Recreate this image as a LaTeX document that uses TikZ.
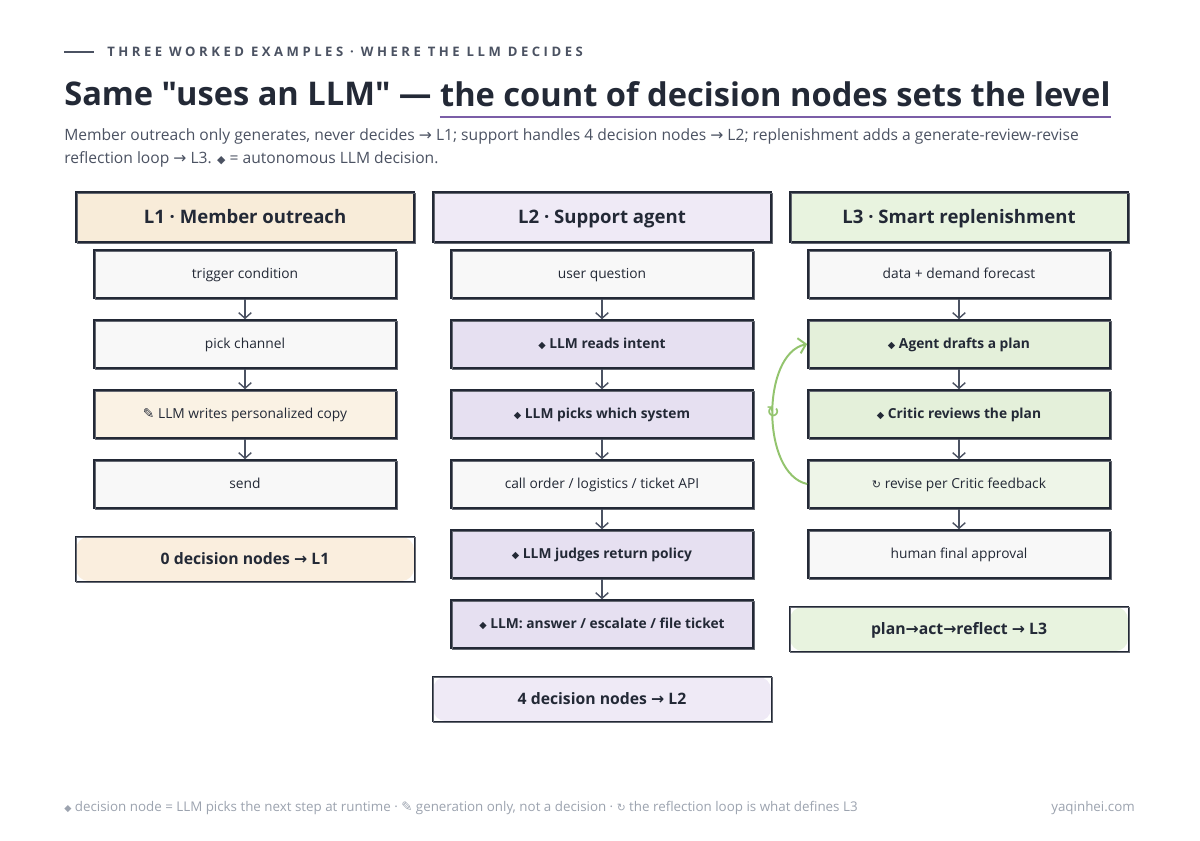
\documentclass[tikz,border=0pt]{standalone}
\usepackage{fontspec}
\setmainfont{Open Sans}
\newfontfamily\symfont{DejaVu Sans}
\newfontfamily\kickfont[LetterSpace=27]{Open Sans}
\newfontfamily\titlefont[Ligatures=TeXOff]{Open Sans}
\usetikzlibrary{arrows.meta, positioning}

\definecolor{ink}{HTML}{232936}
\definecolor{subgray}{HTML}{4B5262}
\definecolor{footgray}{HTML}{9CA3AF}
\definecolor{boxwhite}{HTML}{F8F8F8}
\definecolor{peach}{HTML}{F8ECD9}
\definecolor{peachlt}{HTML}{FAEEDE}
\definecolor{lilac}{HTML}{E6E0F1}
\definecolor{lilaclt}{HTML}{EFEAF6}
\definecolor{leaf}{HTML}{E4F0DA}
\definecolor{leaflt}{HTML}{EEF5E8}
\definecolor{leafhd}{HTML}{E8F3DF}
\definecolor{underl}{HTML}{7B5EA7}
\definecolor{loopgreen}{HTML}{93C46E}

\newcommand{\dia}{{\symfont\scalebox{0.7}{◆}}}
\newcommand{\pen}{{\symfont ✎}}
\newcommand{\cyc}{{\symfont\scalebox{0.8}{↻}}}
\newcommand{\arr}{{\symfont →}}

\begin{document}
\begin{tikzpicture}[
    x=0.025cm, y=-0.025cm,
    sketch/.style={draw=ink, line width=1.1pt,
        postaction={draw=ink!70, line width=0.4pt, transform canvas={shift={(0.7pt,-0.6pt)}}}},
    head/.style={sketch, minimum width=8.45cm, minimum height=1.25cm, inner sep=0pt,
        text height=9.4pt, text depth=0pt,
        font=\fontsize{13.2}{15}\selectfont\bfseries, text=ink},
    stepbox/.style={sketch, fill=boxwhite, minimum width=7.55cm, minimum height=1.2cm, inner sep=0pt,
        text height=7pt, text depth=0pt,
        font=\fontsize{9.8}{12}\selectfont, text=ink},
    decide/.style={stepbox, font=\fontsize{9.8}{12}\selectfont\bfseries},
    sumbox/.style={rounded corners=9pt, minimum width=8.45cm, minimum height=1.1cm, inner sep=0pt,
        text height=8pt, text depth=0pt,
        font=\fontsize{11.2}{13}\selectfont\bfseries, text=ink},
    flow/.style={-{Straight Barb[length=4pt, width=9pt]}, draw=subgray, line width=1pt},
    loop/.style={-{Straight Barb[length=5pt, width=11pt]}, draw=loopgreen, line width=1.4pt}
]
\useasboundingbox (0,0) rectangle (1200,840);
\fill[white] (0,0) rectangle (1200,840);

% Kicker and title
\draw[subgray, line width=1pt] (64,52) -- (94,52);
\node[anchor=west, inner sep=0pt, text=subgray, font=\kickfont\fontsize{9.3}{10}\selectfont\bfseries] (kick) at (107,52)
    {THREE WORKED EXAMPLES · WHERE THE LLM DECIDES};
\node[anchor=west, inner sep=0pt, text=ink, font=\titlefont\fontsize{23.2}{28}\selectfont\bfseries] (titleA) at (64,94)
    {Same "uses an LLM" —};
\node[right=0.2cm of titleA, inner sep=0pt, text=ink, font=\titlefont\fontsize{23.2}{28}\selectfont\bfseries] (titleB)
    {the count of decision nodes sets the level};
\draw[underl, line width=1.5pt] (titleB.west |- 0,117) -- (titleB.east |- 0,117);
\node[anchor=north west, inner sep=0pt, align=left, text=subgray, font=\fontsize{11.1}{16.4}\selectfont] (sub) at (64,128)
    {Member outreach only generates, never decides \arr\ L1; support handles 4 decision nodes \arr\ L2; replenishment adds a generate-review-revise\\
     reflection loop \arr\ L3. \dia\ = autonomous LLM decision.};

% L1 column
\node[head, fill=peach] (h1) at (245,217) {L1 · Member outreach};
\node[stepbox] (a1) at (245,274) {trigger condition};
\node[stepbox] (a2) at (245,344) {pick channel};
\node[stepbox, fill=peach!70] (a3) at (245,414) {\pen\ LLM writes personalized copy};
\node[stepbox] (a4) at (245,484) {send};
\node[sumbox, fill=peachlt] (s1) at (245,559) {0 decision nodes \arr\ L1};
\draw[sketch] (s1.north west) rectangle (s1.south east);

% L2 column
\node[head, fill=lilaclt] (h2) at (602,217) {L2 · Support agent};
\node[stepbox] (b1) at (602,274) {user question};
\node[decide, fill=lilac] (b2) at (602,344) {\dia\ LLM reads intent};
\node[decide, fill=lilac] (b3) at (602,414) {\dia\ LLM picks which system};
\node[stepbox] (b4) at (602,484) {call order / logistics / ticket API};
\node[decide, fill=lilac] (b5) at (602,554) {\dia\ LLM judges return policy};
\node[decide, fill=lilac] (b6) at (602,624) {\dia\ LLM: answer / escalate / file ticket};
\node[sumbox, fill=lilaclt] (s2) at (602,699) {4 decision nodes \arr\ L2};
\draw[sketch] (s2.north west) rectangle (s2.south east);

% L3 column
\node[head, fill=leafhd] (h3) at (959,217) {L3 · Smart replenishment};
\node[stepbox] (c1) at (959,274) {data + demand forecast};
\node[decide, fill=leaf] (c2) at (959,344) {\dia\ Agent drafts a plan};
\node[decide, fill=leaf] (c3) at (959,414) {\dia\ Critic reviews the plan};
\node[stepbox, fill=leaflt] (c4) at (959,484) {\cyc\ revise per Critic feedback};
\node[stepbox] (c5) at (959,554) {human final approval};
\node[sumbox, fill=leafhd] (s3) at (959,629) {plan\arr act\arr reflect \arr\ L3};
\draw[sketch] (s3.north west) rectangle (s3.south east);

% Flow arrows
\foreach \u/\v in {a1/a2, a2/a3, a3/a4, b1/b2, b2/b3, b3/b4, b4/b5, b5/b6, c1/c2, c2/c3, c3/c4, c4/c5}
    \draw[flow] (\u) -- (\v);

% Reflection loop
\draw[loop] (c4.west) .. controls (761,474) and (761,354) .. (c2.west);
\node[text=loopgreen, inner sep=0pt, font=\symfont\bfseries\fontsize{11}{11}\selectfont] (loopmark) at (773,412) {↻};

% Footer
\node[anchor=west, inner sep=0pt, text=footgray, font=\fontsize{9.5}{11}\selectfont] (foot) at (64,808)
    {\dia\ decision node = LLM picks the next step at runtime · \pen\ generation only, not a decision · \cyc\ the reflection loop is what defines L3};
\node[anchor=east, inner sep=0pt, text=footgray, font=\fontsize{9.5}{11}\selectfont] (site) at (1135,808) {yaqinhei.com};
\end{tikzpicture}
\end{document}
